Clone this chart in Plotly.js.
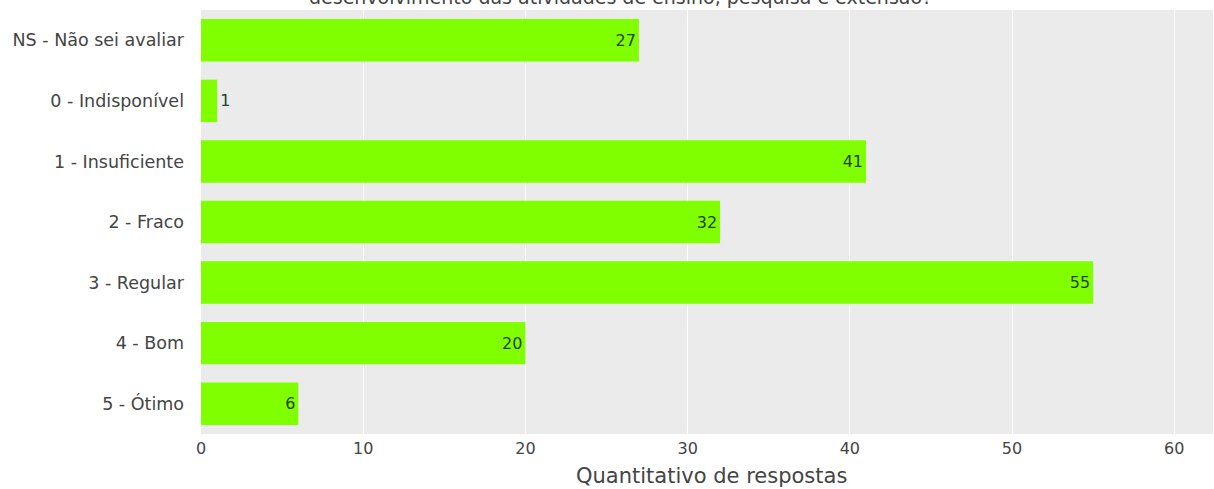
<!DOCTYPE html>
<html>
<head>
<meta charset="utf-8">
<script src="https://cdn.plot.ly/plotly-3.0.1.min.js"></script>
<style>html,body{margin:0;padding:0;background:#fff;}#chart{width:1214px;height:489px;}</style>
</head>
<body>
<div id="chart"></div>
<script>
const categories = ["NS - Não sei avaliar", "0 - Indisponível", "1 - Insuficiente", "2 - Fraco", "3 - Regular", "4 - Bom", "5 - Ótimo"];
const values = [27, 1, 41, 32, 55, 20, 6];
const titleText = "desenvolvimento das atividades de ensino, pesquisa e extensão?";
const xTitle = "Quantitativo de respostas";

const trace = {
  type: "bar",
  orientation: "h",
  y: categories,
  x: values,
  text: values.map(String),
  textposition: values.map(v => v < 3 ? "outside" : "inside"),
  marker: {color: "#7FFF00"},
  textfont: {family: "DejaVu Sans, Verdana, sans-serif", size: 16, color: "#2a3f2a"},
  insidetextanchor: "end",
  cliponaxis: false,
  hoverinfo: "none"
};

const layout = {
  width: 1214,
  height: 489,
  margin: {l: 201, r: 1, t: 10, b: 55, pad: 0},
  paper_bgcolor: "#ffffff",
  plot_bgcolor: "#EBEBEB",
  font: {family: "DejaVu Sans, Verdana, sans-serif", size: 16, color: "#444"},
  bargap: 0.3,
  showlegend: false,
  xaxis: {
    range: [0, 62.39],
    dtick: 10,
    tick0: 0,
    gridcolor: "#ffffff",
    gridwidth: 1,
    zeroline: false,
    showline: false,
    ticks: "",
    ticklabelstandoff: 3,
    tickfont: {size: 16, color: "#444"}
  },
  yaxis: {
    categoryorder: "array",
    categoryarray: categories.slice().reverse(),
    showgrid: false,
    zeroline: false,
    ticks: "",
    ticklabelstandoff: 16,
    tickfont: {size: 17.5, color: "#444"}
  },
  annotations: [{
    text: titleText,
    xref: "paper", yref: "paper",
    x: (620 - 201) / 1012, y: 1,
    xanchor: "center", yanchor: "bottom",
    yshift: 0,
    showarrow: false,
    font: {size: 19, color: "#444"}
  }, {
    text: xTitle,
    xref: "paper", yref: "paper",
    x: 0.504, y: 0,
    xanchor: "center", yanchor: "top",
    yshift: -28,
    showarrow: false,
    font: {size: 21, color: "#444"}
  }]
};

Plotly.newPlot("chart", [trace], layout, {displayModeBar: false, staticPlot: true});
</script>
</body>
</html>
